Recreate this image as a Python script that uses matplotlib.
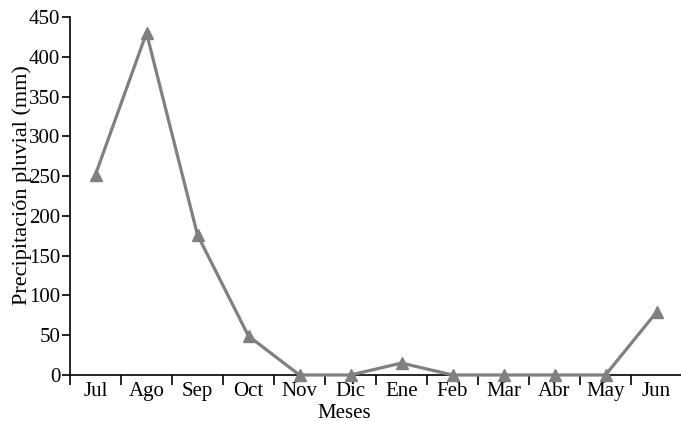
import matplotlib.pyplot as plt

# datos de precipitacion mensual
meses = ['Jul', 'Ago', 'Sep', 'Oct', 'Nov', 'Dic', 'Ene', 'Feb', 'Mar', 'Abr', 'May', 'Jun']
precipitacion = [252, 430, 176, 49, 0, 0, 15, 0, 0, 0, 0, 79]

plt.rcParams['font.family'] = ['Liberation Serif', 'DejaVu Serif']

fig = plt.figure(figsize=(6.81, 4.21), dpi=100)
ax = fig.add_axes((70 / 681, 1 - 375 / 421, 612 / 681, 358 / 421))

x = list(range(len(meses)))
ax.plot(x, precipitacion, color='#808080', linewidth=2.3, marker='^',
        markersize=8.5, clip_on=False, zorder=3)

ax.set_xlim(-0.5, len(meses) - 0.5)
ax.set_ylim(0, 450)
ax.set_yticks(range(0, 451, 50))
ax.set_xticks(x)
ax.set_xticklabels(meses)
ax.set_xticks([i - 0.5 for i in x], minor=True)
ax.tick_params(axis='x', which='major', length=0, pad=5, labelsize=15)
ax.tick_params(axis='x', which='minor', length=7, width=1.2, direction='out')
ax.tick_params(axis='y', length=6, width=1.2, pad=1, labelsize=15)

for s in ['top', 'right']:
    ax.spines[s].set_visible(False)
for s in ['left', 'bottom']:
    ax.spines[s].set_linewidth(1.2)

ax.set_xlabel('Meses', fontsize=15)
ax.xaxis.set_label_coords(0.448, -0.082)
ax.set_ylabel('Precipitación pluvial (mm)', fontsize=16)
ax.yaxis.set_label_coords(-0.062, 0.53)

plt.savefig('out.png', dpi=100)
